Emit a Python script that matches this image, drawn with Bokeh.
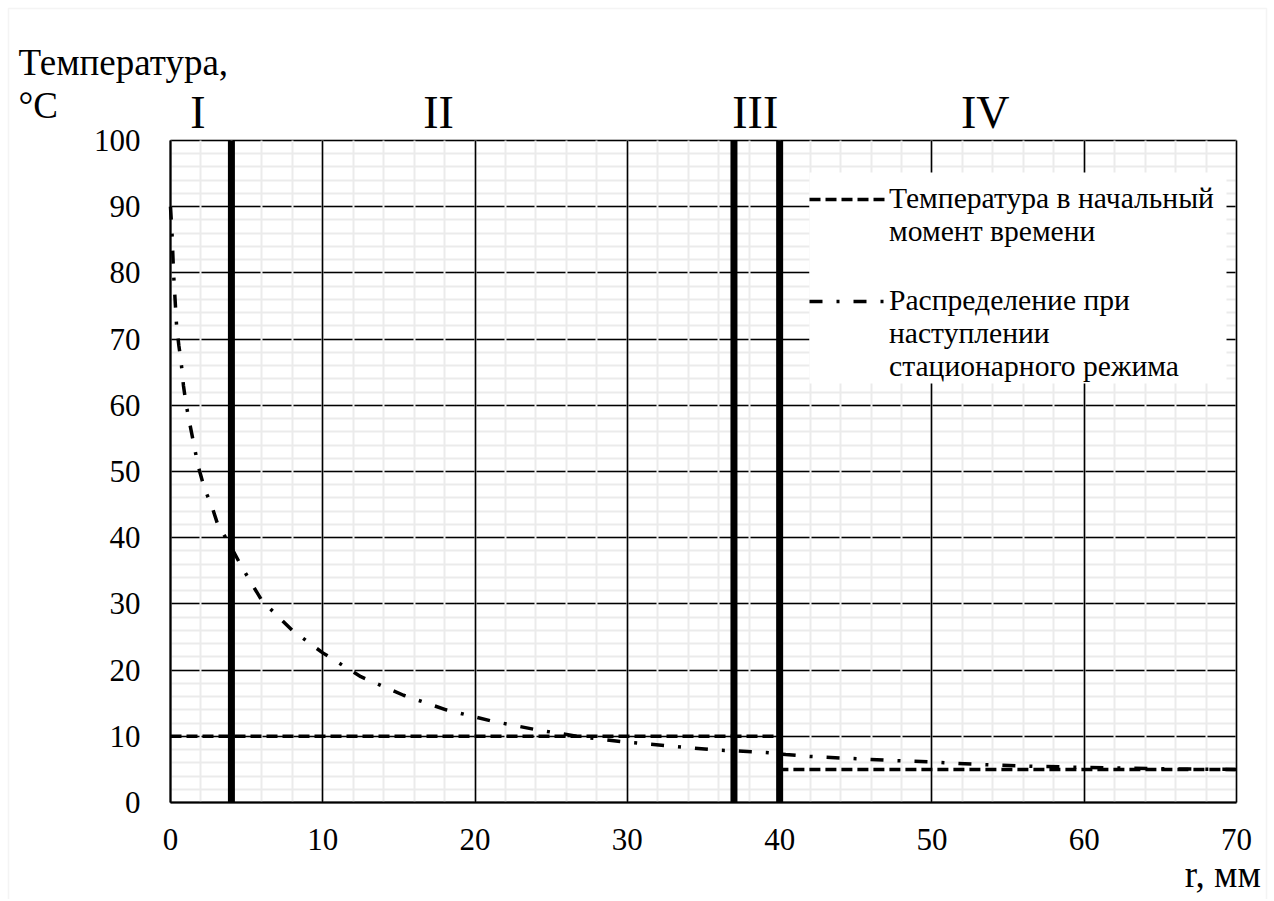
from bokeh.plotting import figure
from bokeh.models import (SingleIntervalTicker, Label, Legend, LegendItem,
                          Range1d, BoxAnnotation)
from bokeh.embed import file_html
from bokeh.resources import INLINE

# ---- data ----
r_steady = [0, 0.1, 0.2, 0.3, 0.4, 0.55, 0.7, 0.85, 1.0, 1.2, 1.5, 1.8, 2.1, 2.4,
            2.75, 3.1, 3.5, 4.0, 4.7, 6, 8, 10, 12.5, 15.3, 18.1, 21.1, 24, 27,
            30, 33, 36, 37.3, 39.1, 40.4, 42, 45.2, 47.3, 49.8, 51.7, 54.1,
            57, 60, 65, 70]
t_steady = [90, 86, 80, 76, 72, 69, 66.5, 63, 60.5, 58, 54.5, 51, 48.5, 46.5,
            44.5, 42, 40.5, 38.5, 35.5, 30.5, 26, 22.6, 19, 16.2, 14, 12.3, 11, 9.9,
            9.1, 8.5, 7.9, 7.8, 7.55, 7.25, 6.95, 6.6, 6.35, 6.15, 5.9, 5.65,
            5.45, 5.3, 5.1, 5.0]
r_initial = [0, 40, 40, 70]
t_initial = [10, 10, 5, 5]
zone_bounds = [4, 37, 40]
zone_names = ["I", "II", "III", "IV"]
zone_label_x = [1.8, 17.6, 38.4, 53.5]
legend_lines_initial = ["Температура в начальный", "момент времени"]
legend_lines_steady = ["Распределение при", "наступлении", "стационарного режима"]

FONT = "Liberation Serif"

# ---- layout (pixels) ----
W, H = 1270, 899
FL, FR, FT, FB = 170, 1236, 140, 802          # plot-area edges in pixels
X0, X1, Y0, Y1 = 0, 70, 0, 100                # plot-area data extents
sx = (FR - FL) / (X1 - X0)
sy = (FB - FT) / (Y1 - Y0)
x_range = Range1d(X0 - FL / sx, X1 + (W - FR) / sx)
y_range = Range1d(Y0 - (H - FB) / sy, Y1 + FT / sy)


def px_x(px):
    return X0 + (px - FL) / sx


def px_y(py):
    return Y0 + (FB - py) / sy


p = figure(width=W, height=H, x_range=x_range, y_range=y_range,
           output_backend="svg", toolbar_location=None, title=None,
           min_border_left=0, min_border_right=0,
           min_border_top=0, min_border_bottom=0)
p.background_fill_color = "white"
p.border_fill_color = "white"
p.outline_line_color = None

# light chart-area border
p.add_layout(BoxAnnotation(left=px_x(8), right=px_x(1266), top=px_y(8),
                           bottom=px_y(910), fill_alpha=0,
                           line_color="#d9d9d9", line_width=1.5,
                           level="underlay"))

xa, ya = p.xaxis[0], p.yaxis[0]
xa.fixed_location = Y0
ya.fixed_location = X0
xa.bounds = (X0, X1)
ya.bounds = (Y0, Y1)
for ax in (xa, ya):
    ax.ticker = SingleIntervalTicker(interval=10, num_minor_ticks=5)
    ax.major_tick_line_color = None
    ax.minor_tick_line_color = None
    ax.axis_line_color = "black"
    ax.axis_line_width = 2
    ax.major_label_text_font = FONT
    ax.major_label_text_font_size = "31px"
    ax.major_label_text_color = "black"
ya.major_label_standoff = 24
xa.major_label_standoff = 20

xg, yg = p.xgrid[0], p.ygrid[0]
xg.cross_bounds = (Y0, Y1)
yg.cross_bounds = (X0, X1)
yg.level = "image"       # horizontal lines first, vertical lines over them
xg.level = "underlay"
for g in (xg, yg):
    g.grid_line_color = "black"
    g.grid_line_width = 1.6
    g.minor_grid_line_color = "#ebebeb"
    g.minor_grid_line_width = 2

# zone boundaries
p.segment(x0=zone_bounds, y0=[Y0] * len(zone_bounds), x1=zone_bounds,
          y1=[Y1] * len(zone_bounds), line_color="black", line_width=7)

r1 = p.line(r_initial, t_initial, line_color="black", line_width=3.5,
            line_dash="11 5")
r2 = p.line(r_steady, t_steady, line_color="black", line_width=3.5,
            line_dash="13 14 3 14")
# invisible renderer used for continuation rows of the legend
r_blank = p.line(r_initial, t_initial, line_alpha=0)

# white legend area
p.add_layout(BoxAnnotation(left=px_x(809), right=px_x(1226), top=px_y(172),
                           bottom=px_y(383), fill_color="white", fill_alpha=1,
                           line_color=None))


def make_legend(lines, renderer, bottom_px):
    items = [LegendItem(label=lines[0], renderers=[renderer])]
    items += [LegendItem(label=t, renderers=[r_blank]) for t in lines[1:]]
    lg = Legend(items=items, location=(809, H - bottom_px))
    lg.background_fill_alpha = 0
    lg.border_line_color = None
    lg.label_text_font = FONT
    lg.label_text_font_size = "29.6px"
    lg.label_text_color = "black"
    lg.glyph_width = 77
    lg.glyph_height = 20
    lg.label_height = 20
    lg.label_standoff = 3
    lg.padding = 6
    lg.spacing = 0
    lg.margin = 0
    return lg


p.add_layout(make_legend(legend_lines_initial, r1, 248))
p.add_layout(make_legend(legend_lines_steady, r2, 383))

# zone names
for name, xx in zip(zone_names, zone_label_x):
    p.add_layout(Label(x=xx, y=104.2, text=name, text_align="center",
                       text_baseline="alphabetic", text_font=FONT,
                       text_font_size="46px", text_color="black"))

# axis titles
p.add_layout(Label(x=-9.98, y=111.8, text="Температура,", text_align="left",
                   text_baseline="alphabetic", text_font=FONT,
                   text_font_size="37px", text_color="black"))
p.add_layout(Label(x=-9.98, y=105.3, text="°C", text_align="left",
                   text_baseline="alphabetic", text_font=FONT,
                   text_font_size="37px", text_color="black"))
p.add_layout(Label(x=71.6, y=-10.9, text="r, мм", text_align="right",
                   text_baseline="alphabetic", text_font=FONT,
                   text_font_size="37px", text_color="black"))

open("out.html", "w").write(file_html(p, INLINE))
